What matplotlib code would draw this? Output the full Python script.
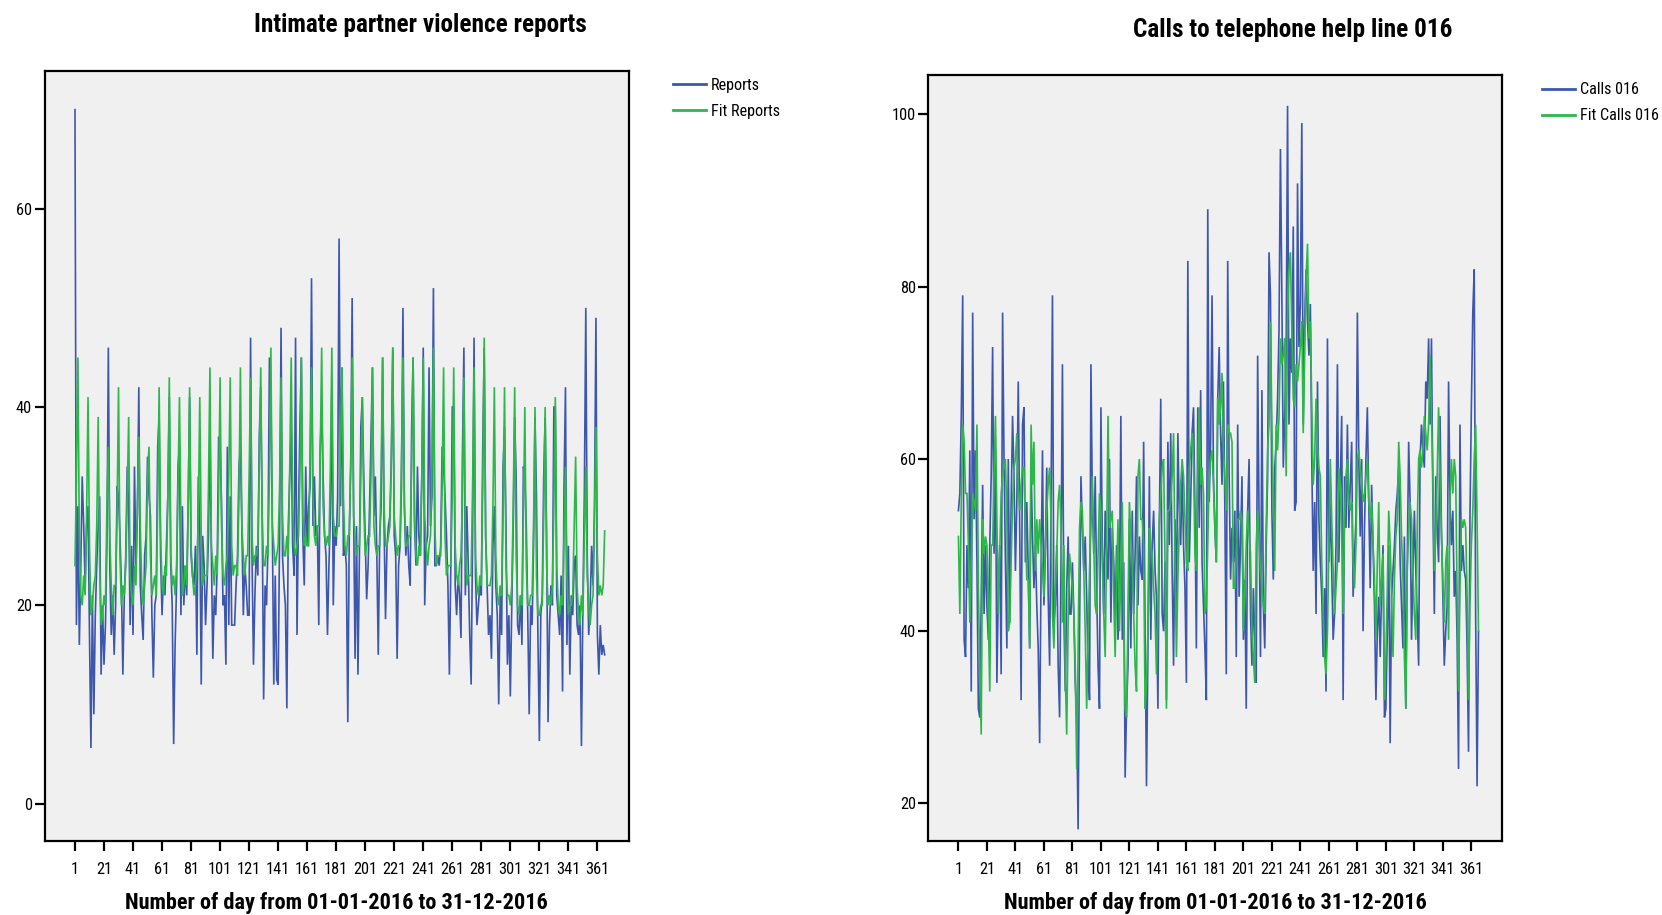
import matplotlib
matplotlib.use("Agg")
import matplotlib.pyplot as plt
import matplotlib.font_manager as fm
from matplotlib.lines import Line2D

# ---------------- data ----------------
days = list(range(1, 367))
tick_days = list(range(1, 362, 20))

# Intimate partner violence reports (rows = weeks, Fri..Thu, starting 01-01-2016)
reports = [
    70, 18, 30, 16, 24, 33, 28,
    22, 28, 30, 17, 5.6, 21, 9,
    19, 24, 28, 31, 13, 20, 14,
    18, 26, 46, 24, 17, 21, 15,
    20, 32, 31, 27, 22, 13, 21,
    25, 34, 30, 18, 26, 17, 34,
    24, 29, 42, 22, 19, 16.5, 25,
    27, 35, 31, 29, 19, 12.7, 20,
    21, 36, 39, 25, 19, 23, 21,
    26, 31, 41, 24, 20, 6, 16,
    22, 34, 36, 19, 30, 20, 24,
    21, 30, 41, 25, 23, 22, 26,
    15, 33, 28, 12, 27, 24, 18,
    22, 27, 38, 25, 14.6, 21, 19,
    24, 37, 36, 30, 20, 21, 14,
    36, 18, 31, 18, 18, 18, 22,
    25, 34, 36, 28, 19, 24, 22,
    19, 19, 47, 25, 14, 21, 26,
    23, 37, 42, 29, 10.5, 22, 20,
    26, 45, 41, 28, 12, 23, 12.5,
    12, 27, 48, 25, 22, 20, 9.6,
    28, 33, 38, 26, 23, 47, 17,
    29, 38, 45, 27, 22, 34, 26,
    30, 32, 53, 28, 33, 27, 28,
    18, 36, 40, 33, 27, 25, 17,
    24, 29, 42, 20, 28, 26, 31,
    57, 30, 44, 25, 26, 24, 8.2,
    27, 34, 51, 30, 14.6, 28, 13,
    25, 38, 41, 33, 27, 20.6, 24,
    30, 37, 44, 29, 33, 25, 15,
    27, 30, 45, 28, 18.6, 26, 28,
    29, 35, 46, 27, 25, 14.6, 24,
    26, 32, 50, 30, 25, 28, 24,
    22, 38, 45, 28, 24, 34, 27,
    25, 33, 46, 20, 26, 27, 44,
    28, 31, 52, 24, 24, 25, 24,
    26, 36, 34, 31, 27, 22, 13,
    24, 40, 40, 22, 19, 23, 21,
    16.7, 35, 46, 21, 30, 24, 17,
    12, 27, 47, 23, 18, 20, 22,
    21, 36, 46, 27, 22, 17, 19,
    14.6, 26, 30, 22, 19, 10, 21,
    17, 34, 38, 28, 14, 19, 10.8,
    20, 28, 39, 33, 18, 17, 21,
    16, 34, 33, 28, 19, 9, 20,
    18, 26, 39, 31, 17, 6.3, 19,
    21, 33, 39, 27, 8.2, 18, 22,
    20, 40, 40, 21, 19, 17, 23,
    11.3, 32, 42, 16, 26, 13, 21,
    19, 24, 25, 18, 17, 20, 5.8,
    20, 31, 50, 25, 17, 20, 26,
    22, 30, 49, 17, 13, 18, 15,
    16, 15,
]

fit_reports = [
    24, 33, 45, 27, 21, 20, 23,
    21, 29, 41, 26, 19, 20, 22,
    23, 28, 39, 24, 18, 19, 21,
    20, 30, 36, 27, 22, 19, 22,
    22, 29, 42, 25, 20, 22, 21,
    24, 31, 39, 23, 21, 20, 24,
    22, 30, 37, 28, 22, 20, 22,
    24, 33, 36, 25, 21, 22, 23,
    21, 30, 42, 27, 22, 21, 24,
    23, 31, 43, 25, 22, 23, 21,
    24, 32, 41, 28, 21, 22, 24,
    22, 30, 42, 26, 23, 21, 22,
    24, 29, 41, 27, 22, 23, 23,
    23, 32, 44, 26, 24, 22, 25,
    23, 31, 43, 28, 23, 22, 24,
    25, 33, 43, 26, 23, 24, 24,
    23, 31, 44, 28, 25, 23, 25,
    25, 33, 43, 27, 24, 25, 25,
    26, 34, 44, 29, 24, 24, 26,
    25, 33, 46, 28, 26, 24, 25,
    26, 32, 43, 29, 25, 25, 27,
    25, 34, 45, 30, 26, 25, 26,
    27, 33, 45, 29, 26, 27, 26,
    26, 35, 44, 31, 27, 26, 28,
    28, 35, 46, 30, 27, 26, 27,
    26, 34, 46, 29, 27, 27, 28,
    28, 36, 44, 31, 26, 25, 27,
    27, 34, 45, 29, 27, 25, 26,
    26, 33, 41, 30, 25, 26, 27,
    27, 33, 44, 28, 26, 25, 26,
    26, 34, 45, 30, 26, 26, 27,
    28, 34, 46, 29, 27, 25, 26,
    26, 35, 45, 30, 26, 26, 27,
    27, 34, 45, 29, 25, 24, 26,
    25, 33, 45, 29, 26, 24, 26,
    27, 34, 46, 28, 24, 25, 25,
    25, 32, 44, 27, 23, 24, 24,
    24, 31, 44, 26, 23, 22, 24,
    25, 31, 43, 27, 22, 23, 23,
    23, 32, 44, 25, 22, 21, 23,
    22, 32, 47, 27, 22, 22, 22,
    23, 30, 42, 25, 21, 20, 22,
    21, 29, 42, 24, 21, 21, 20,
    22, 30, 42, 25, 20, 19, 21,
    20, 29, 40, 24, 20, 20, 21,
    21, 28, 40, 23, 19, 19, 20,
    20, 29, 40, 24, 20, 21, 20,
    22, 30, 41, 24, 20, 19, 21,
    20, 27, 34, 23, 19, 20, 20,
    21, 28, 35, 22, 19, 18, 21,
    19, 27, 34, 23, 20, 18, 20,
    21, 29, 38, 25, 21, 22, 21,
    22, 27.5,
]

# Calls to telephone help line 016 (day 1..366)
calls = [
    54, 56, 65, 79, 39, 37, 50, 45, 61, 33,
    77, 53, 61, 48, 31, 30, 43, 57, 42, 50,
    43, 39, 50, 58, 73, 49, 61, 34, 45, 50,
    35, 77, 60, 48, 38, 60, 41, 55, 65, 58,
    47, 55, 69, 52, 32, 64, 66, 48, 55, 47,
    38, 59, 51, 45, 50, 43, 38, 27, 47, 61,
    43, 49, 59, 44, 36, 55, 79, 41, 43, 50,
    36, 30, 48, 71, 42, 33, 45, 51, 42, 42,
    48, 42, 34, 30, 17, 40, 58, 52, 47, 51,
    44, 36, 32, 71, 55, 49, 58, 45, 36, 31,
    66, 50, 42, 54, 49, 46, 60, 41, 52, 48,
    41, 50, 39, 44, 65, 39, 48, 23, 31, 36,
    53, 38, 54, 42, 49, 58, 43, 51, 47, 46,
    62, 40, 22, 38, 58, 39, 50, 54, 47, 44,
    31, 52, 67, 42, 40, 48, 32, 62, 50, 63,
    47, 36, 53, 42, 63, 54, 50, 59, 50, 45,
    34, 83, 48, 55, 63, 66, 54, 38, 66, 52,
    68, 48, 43, 38, 32, 89, 55, 62, 79, 58,
    52, 48, 67, 73, 63, 57, 69, 54, 35, 83,
    58, 46, 52, 48, 54, 37, 64, 44, 50, 58,
    39, 46, 31, 54, 60, 42, 36, 45, 39, 34,
    72, 53, 37, 68, 43, 38, 50, 58, 84, 79,
    54, 46, 59, 62, 67, 75, 96, 79, 59, 65,
    72, 101, 64, 74, 70, 87, 54, 55, 92, 73,
    78, 99, 64, 76, 82, 76, 72, 78, 60, 47,
    55, 42, 69, 53, 48, 44, 37, 45, 33, 74,
    48, 55, 47, 39, 42, 50, 71, 48, 57, 65,
    32, 58, 52, 64, 52, 57, 62, 44, 49, 53,
    77, 60, 51, 60, 40, 52, 60, 66, 55, 45,
    57, 50, 43, 32, 40, 44, 37, 45, 50, 30,
    31, 40, 50, 27, 44, 47, 50, 54, 56, 59,
    48, 43, 38, 51, 31, 48, 62, 55, 39, 47,
    54, 47, 42, 36, 60, 64, 61, 59, 69, 67,
    74, 64, 74, 55, 42, 58, 52, 48, 65, 52,
    44, 36, 40, 43, 69, 55, 50, 54, 44, 47,
    39, 24, 64, 47, 50, 47, 46, 38, 26, 53,
    66, 77, 82, 42, 22, 40,
]

fit_calls = [
    51, 42, 55, 64, 62, 56, 56, 50, 41, 48,
    56, 55, 54, 64, 45, 36, 28, 53, 49, 51,
    50, 42, 33, 50, 50, 58, 65, 53, 42, 49,
    56, 58, 59, 60, 53, 40, 41, 48, 55, 59,
    60, 63, 57, 54, 57, 59, 59, 52, 46, 46,
    38, 64, 57, 62, 47, 53, 49, 53, 50, 47,
    44, 50, 54, 57, 59, 53, 42, 38, 45, 49,
    55, 57, 52, 41, 50, 35, 28, 41, 49, 47,
    45, 42, 36, 24, 38, 52, 55, 54, 47, 40,
    31, 39, 47, 52, 58, 50, 43, 42, 49, 56,
    54, 48, 42, 37, 50, 65, 52, 53, 54, 44,
    37, 46, 53, 40, 47, 55, 42, 31, 30, 42,
    55, 51, 48, 42, 36, 33, 58, 60, 53, 53,
    50, 31, 34, 40, 52, 50, 49, 45, 42, 35,
    42, 53, 56, 59, 60, 48, 31, 54, 54, 55,
    58, 63, 48, 37, 46, 52, 57, 60, 58, 53,
    48, 47, 59, 61, 63, 60, 49, 47, 58, 66,
    57, 59, 56, 42, 43, 50, 58, 60, 61, 57,
    52, 48, 67, 64, 66, 70, 61, 58, 54, 64,
    63, 63, 62, 45, 45, 49, 53, 53, 54, 53,
    40, 45, 50, 54, 51, 49, 40, 37, 34, 50,
    54, 51, 47, 45, 43, 42, 52, 61, 64, 76,
    64, 55, 47, 64, 61, 65, 74, 71, 72, 74,
    58, 76, 82, 84, 75, 67, 66, 71, 69, 71,
    73, 76, 63, 72, 81, 85, 74, 76, 66, 57,
    60, 67, 62, 59, 58, 48, 42, 37, 35, 40,
    50, 60, 53, 47, 42, 45, 48, 59, 57, 52,
    42, 53, 58, 60, 55, 54, 55, 48, 45, 50,
    60, 61, 59, 57, 55, 56, 58, 60, 55, 53,
    55, 50, 46, 39, 48, 55, 43, 46, 49, 32,
    37, 45, 54, 50, 44, 37, 46, 51, 53, 62,
    58, 51, 46, 37, 31, 47, 52, 55, 53, 47,
    42, 39, 52, 60, 61, 59, 61, 65, 63, 61,
    64, 72, 65, 58, 47, 51, 58, 66, 58, 51,
    46, 41, 48, 50, 39, 55, 60, 56, 60, 58,
    44, 33, 45, 53, 52, 53, 52, 44, 32, 43,
    50, 54, 60, 64, 53, 40,
]

left_yticks = [0, 20, 40, 60]
right_yticks = [20, 40, 60, 80, 100]

# ---------------- fonts: prefer a narrow / condensed sans ----------------
STRETCH = "normal"
FAMILY = None
try:
    entries = fm.fontManager.ttflist
    by_name = {}
    for f in entries:
        by_name.setdefault(f.name, []).append(f)
    for nm in ["Liberation Sans Narrow", "Arial Narrow", "Roboto Condensed",
               "Noto Sans Condensed", "Open Sans Condensed", "DejaVu Sans Condensed"]:
        if nm in by_name:
            FAMILY = nm
            break
    if FAMILY is None:
        for nm in ["Noto Sans", "Roboto", "Open Sans", "DejaVu Sans"]:
            if any(str(f.stretch) in ("condensed", "semi-condensed") for f in by_name.get(nm, [])):
                FAMILY = nm
                STRETCH = "condensed"
                break
except Exception:
    FAMILY = None
if FAMILY is None:
    FAMILY = "Liberation Sans"
plt.rcParams["font.family"] = [FAMILY, "DejaVu Sans"]
plt.rcParams["font.stretch"] = STRETCH

BLUE = "#3d57ad"
GREEN = "#2cb74a"
BG = "#f0f0f0"

W, H = 1662, 915
fig = plt.figure(figsize=(W / 100, H / 100), dpi=100)
fig.patch.set_facecolor("white")
renderer = fig.canvas.get_renderer()


def size_for(s, weight, target_px, base=12.0):
    t = fig.text(0, 0, s, fontsize=base, fontweight=weight)
    w = t.get_window_extent(renderer=renderer).width
    t.remove()
    return base * target_px / w


TITLE_FS = size_for("Intimate partner violence reports", "bold", 333)
LABEL_FS = size_for("Number of day from 01-01-2016 to 31-12-2016", "bold", 423)
TICK_FS = size_for("361", "normal", 24)
LEG_FS = size_for("Fit Reports", "normal", 69)

ax1 = fig.add_axes([44.5 / W, 1 - 840.6 / H, (628.6 - 44.5) / W, (840.6 - 71) / H])
ax2 = fig.add_axes([928.5 / W, 1 - 840.6 / H, (1502 - 928.5) / W, (840.6 - 75.3) / H])


def style(ax, ylim, yticks):
    ax.set_facecolor(BG)
    ax.set_xlim(-20, 382.5)
    ax.set_ylim(*ylim)
    ax.set_xticks(tick_days)
    ax.set_xticklabels([str(t) for t in tick_days], fontsize=TICK_FS)
    ax.set_yticks(yticks)
    ax.set_yticklabels([str(t) for t in yticks], fontsize=TICK_FS)
    ax.tick_params(axis="both", direction="out", length=7, width=1.6, color="black", pad=2)
    ax.tick_params(axis="x", pad=8.5)
    for sp in ax.spines.values():
        sp.set_linewidth(1.6)
        sp.set_color("black")
    ax.set_xlabel("Number of day from 01-01-2016 to 31-12-2016", fontsize=LABEL_FS,
                  fontweight="bold", labelpad=11)


ax1.plot(days, reports, color=BLUE, lw=1.2, solid_joinstyle="miter")
ax1.plot(days, fit_reports, color=GREEN, lw=1.2, solid_joinstyle="miter")
style(ax1, (-3.74, 73.9), left_yticks)

ax2.plot(days, calls, color=BLUE, lw=1.2, solid_joinstyle="miter")
ax2.plot(days, fit_calls, color=GREEN, lw=1.2, solid_joinstyle="miter")
style(ax2, (15.69, 104.55), right_yticks)

fig.text(420 / W, 1 - 25 / H, "Intimate partner violence reports", ha="center", va="center",
         fontsize=TITLE_FS, fontweight="bold")
fig.text(1293 / W, 1 - 30 / H, "Calls to telephone help line 016", ha="center", va="center",
         fontsize=TITLE_FS, fontweight="bold")

leg_px = LEG_FS * 100 / 72
leg_kw = dict(frameon=False, borderpad=0, borderaxespad=0, handlelength=33 / leg_px,
              handletextpad=5 / leg_px, labelspacing=0.68, fontsize=LEG_FS,
              bbox_transform=fig.transFigure, loc="upper left")
ax1.legend([Line2D([], [], color=BLUE, lw=2), Line2D([], [], color=GREEN, lw=2)],
           ["Reports", "Fit Reports"], bbox_to_anchor=(673 / W, 1 - 78 / H), **leg_kw)
ax2.legend([Line2D([], [], color=BLUE, lw=2), Line2D([], [], color=GREEN, lw=2)],
           ["Calls 016", "Fit Calls 016"], bbox_to_anchor=(1542 / W, 1 - 82.5 / H), **leg_kw)

fig.savefig("out.png", dpi=100, facecolor="white")
